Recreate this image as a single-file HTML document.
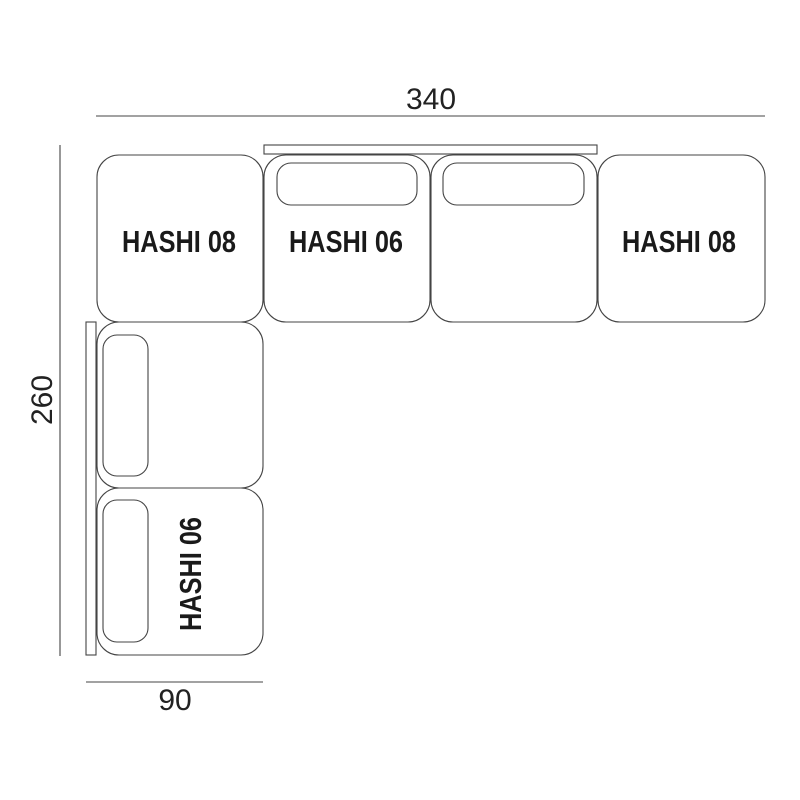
<!DOCTYPE html>
<html><head><style>body{margin:0;background:#fff}svg{display:block}</style></head>
<body>
<svg width="800" height="800" viewBox="0 0 800 800" xmlns="http://www.w3.org/2000/svg">
<g fill="none" stroke="#444" stroke-width="1.1">
<line x1="96" y1="116" x2="765" y2="116"/>
<line x1="60" y1="145" x2="60" y2="656"/>
<line x1="86" y1="682" x2="263" y2="682"/>
<rect x="264" y="145" width="333" height="9"/>
<rect x="86" y="322" width="10" height="333"/>
<rect x="97" y="155" width="166" height="167" rx="22"/>
<rect x="264" y="155" width="166" height="167" rx="22"/>
<rect x="431" y="155" width="166" height="167" rx="22"/>
<rect x="598" y="155" width="167" height="167" rx="22"/>
<rect x="97" y="322" width="166" height="166" rx="22"/>
<rect x="97" y="488" width="166" height="167" rx="22"/>
<rect x="277" y="163" width="140" height="42" rx="14"/>
<rect x="443" y="163" width="141" height="42" rx="14"/>
<rect x="103" y="335" width="45" height="141" rx="14"/>
<rect x="103" y="500" width="45" height="142" rx="14"/>
</g>
<g font-family="'Liberation Sans',sans-serif" fill="#222">
<text x="431" y="109" font-size="30" text-anchor="middle">340</text>
<text x="175" y="710" font-size="30" text-anchor="middle">90</text>
<text transform="translate(52,400) rotate(-90)" font-size="30" text-anchor="middle">260</text>
</g>
<g font-family="'Liberation Sans',sans-serif" font-weight="bold" font-size="31" fill="#1a1a1a">
<text x="122" y="252" textLength="114" lengthAdjust="spacingAndGlyphs">HASHI 08</text>
<text x="289" y="252" textLength="114" lengthAdjust="spacingAndGlyphs">HASHI 06</text>
<text x="622" y="252" textLength="114" lengthAdjust="spacingAndGlyphs">HASHI 08</text>
<text transform="translate(201,631) rotate(-90)" textLength="114" lengthAdjust="spacingAndGlyphs">HASHI 06</text>
</g>
</svg>
</body></html>
